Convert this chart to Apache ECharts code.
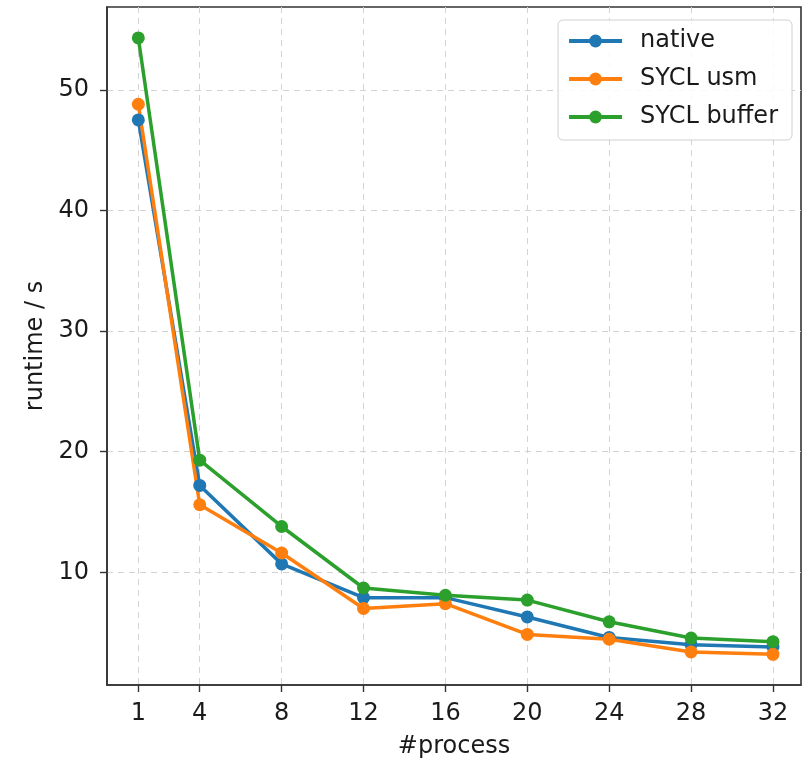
<!DOCTYPE html>
<html>
<head>
<meta charset="utf-8">
<script src="https://cdn.jsdelivr.net/npm/echarts@6/dist/echarts.min.js"></script>
<style>
  html, body { margin: 0; padding: 0; background: #fff; }
  #chart { width: 803px; height: 764px; }
</style>
</head>
<body>
<div id="chart"></div>
<script>
const processes = [1, 4, 8, 12, 16, 20, 24, 28, 32]
const nativeRuntime = [47.5, 17.2, 10.7, 7.9, 7.9, 6.3, 4.6, 4.0, 3.8]
const usmRuntime = [48.8, 15.6, 11.6, 7.0, 7.4, 4.85, 4.45, 3.4, 3.2]
const bufferRuntime = [54.3, 19.3, 13.8, 8.7, 8.1, 7.7, 5.9, 4.55, 4.25]
const xTicks = [1, 4, 8, 12, 16, 20, 24, 28, 32]
const yTicks = [10, 20, 30, 40, 50]

const font = 'DejaVu Sans'
const textColor = '#1a1a1a'
const gridLine = { show: true, lineStyle: { color: '#d3d3d3', type: [6, 5], width: 1 } }

function pairs(vals) {
  return processes.map((p, i) => [p, vals[i]])
}

function lineSeries(name, color, vals) {
  return {
    name,
    type: 'line',
    data: pairs(vals),
    symbol: 'circle',
    symbolSize: 13,
    lineStyle: { width: 3.5, color },
    itemStyle: { color },
    emphasis: { disabled: true },
  }
}

const chart = echarts.init(document.getElementById('chart'))

chart.setOption({
  animation: false,
  backgroundColor: '#fff',
  grid: { left: 107, right: 2, top: 7, bottom: 76, show: true, borderColor: '#333', borderWidth: 1.6 },
  legend: {
    orient: 'vertical',
    right: 11,
    top: 20,
    padding: [9, 14, 11, 9],
    itemGap: 14,
    itemWidth: 53,
    itemHeight: 16,
    borderColor: '#d0d0d0',
    borderWidth: 1,
    borderRadius: 5,
    backgroundColor: 'rgba(255,255,255,0.85)',
    lineStyle: { width: 4 },
    textStyle: { fontFamily: font, fontSize: 24, color: textColor, padding: [0, 0, 0, 13] },
    data: ['native', 'SYCL usm', 'SYCL buffer'],
  },
  xAxis: {
    type: 'value',
    min: -0.53,
    max: 33.37,
    name: '#process',
    nameLocation: 'middle',
    nameGap: 50,
    nameTextStyle: { fontFamily: font, fontSize: 24, color: textColor },
    axisLine: { show: true, onZero: false, lineStyle: { color: '#333', width: 1.6 } },
    axisTick: { show: true, length: 7, customValues: xTicks, lineStyle: { color: '#333', width: 1.4 } },
    axisLabel: { customValues: xTicks, margin: 17, fontFamily: font, fontSize: 24, color: textColor },
    splitLine: gridLine,
  },
  yAxis: {
    type: 'value',
    min: 0.66,
    max: 56.86,
    name: 'runtime / s',
    nameLocation: 'middle',
    nameGap: 59,
    nameTextStyle: { fontFamily: font, fontSize: 24, color: textColor },
    axisLine: { show: true, onZero: false, lineStyle: { color: '#333', width: 1.6 } },
    axisTick: { show: true, length: 7, customValues: yTicks, lineStyle: { color: '#333', width: 1.4 } },
    axisLabel: { customValues: yTicks, margin: 18, fontFamily: font, fontSize: 24, color: textColor },
    splitLine: gridLine,
  },
  series: [
    lineSeries('native', '#1f77b4', nativeRuntime),
    lineSeries('SYCL usm', '#ff7f0e', usmRuntime),
    lineSeries('SYCL buffer', '#2ca02c', bufferRuntime),
  ],
})
</script>
</body>
</html>
